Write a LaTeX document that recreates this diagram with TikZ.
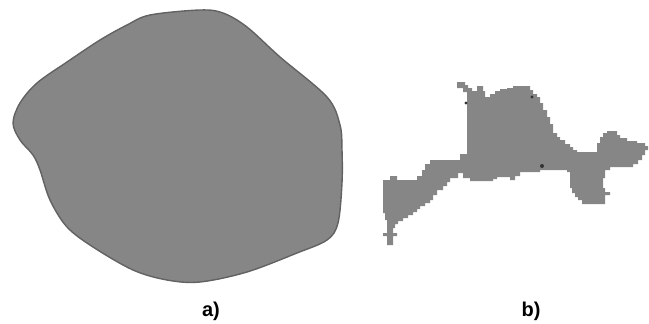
\documentclass[tikz,border=0pt]{standalone}
\usepackage{fontspec}
\setmainfont{Liberation Sans}
\definecolor{blobgray}{RGB}{134,134,134}
\definecolor{rimgray}{RGB}{98,98,98}
\tikzset{
  grain/.style={fill=blobgray,draw=rimgray,line width=1.4pt},
  pixgrain/.style={fill=blobgray},
  speck/.style={fill=black!80},
  caption/.style={font=\fontsize{20}{24}\selectfont\bfseries,inner sep=0pt}
}
\begin{document}
\begin{tikzpicture}[x=1pt,y=-1pt]
\useasboundingbox (0,0) rectangle (649,324);
% a) smooth particle
\draw[grain] plot[smooth cycle,tension=0.55] coordinates {
  (200,10) (150,15) (127,25) (100,40) (67,62) (37,83) (20,103) (13,123)
  (20,140) (33,155) (40,170) (50,200) (67,227) (93,247) (133,270)
  (167,280) (200,282) (247,272) (297,253) (327,240) (338,223) (342,183)
  (342,150) (340,125) (327,97) (280,57) (247,27) (223,13)};

% b) pixel particle
\fill[pixgrain] (457,82) -- (465,82) -- (465,85) -- (468,85) -- (468,88) -- (472,88)
  -- (472,91) -- (477,91) -- (477,86) -- (483,86) -- (483,91) -- (485,91) -- (485,97)
  -- (490,97) -- (490,94) -- (495,94) -- (495,91) -- (500,91) -- (500,89) -- (507,89)
  -- (507,88) -- (513,88) -- (513,86) -- (530,86) -- (530,90) -- (533,90) -- (533,94)
  -- (537,94) -- (537,97) -- (540,97) -- (540,103) -- (543,103) -- (543,110) -- (547,110)
  -- (547,117) -- (550,117) -- (550,124) -- (553,124) -- (553,133) -- (557,133)
  -- (557,137) -- (560,137) -- (560,140) -- (565,140) -- (565,144) -- (570,144)
  -- (570,147) -- (573,147) -- (573,150) -- (577,150) -- (577,152) -- (597,152)
  -- (597,143) -- (600,143) -- (600,137) -- (603,137) -- (603,133) -- (607,133)
  -- (607,131) -- (617,131) -- (617,135) -- (620,135) -- (620,138) -- (627,138)
  -- (627,141) -- (637,141) -- (637,143) -- (645,143) -- (645,146) -- (648,146)
  -- (648,150) -- (645,150) -- (645,155) -- (642,155) -- (642,160) -- (638,160)
  -- (638,164) -- (633,164) -- (633,167) -- (610,167) -- (610,170) -- (605,170)
  -- (605,178) -- (603,178) -- (603,188) -- (605,188) -- (605,192) -- (610,192)
  -- (610,195) -- (605,195) -- (605,204) -- (582,204) -- (582,200) -- (578,200)
  -- (578,197) -- (575,197) -- (575,193) -- (572,193) -- (572,188) -- (570,188)
  -- (570,172) -- (567,172) -- (567,170) -- (540,170) -- (540,172) -- (520,172)
  -- (520,176) -- (515,176) -- (515,180) -- (510,180) -- (510,177) -- (497,177)
  -- (497,179) -- (493,179) -- (493,181) -- (470,181) -- (470,178) -- (463,178)
  -- (463,173) -- (458,173) -- (458,178) -- (450,178) -- (450,182) -- (447,182)
  -- (447,186) -- (443,186) -- (443,190) -- (437,190) -- (437,195) -- (433,195)
  -- (433,200) -- (430,200) -- (430,203) -- (425,203) -- (425,206) -- (420,206)
  -- (420,209) -- (417,209) -- (417,212) -- (413,212) -- (413,215) -- (408,215)
  -- (408,218) -- (403,218) -- (403,221) -- (398,221) -- (398,224) -- (395,224)
  -- (395,228) -- (393,228) -- (393,233) -- (397,233) -- (397,236) -- (393,236)
  -- (393,245) -- (387,245) -- (387,236) -- (383,236) -- (383,233) -- (387,233)
  -- (387,220) -- (385,220) -- (385,213) -- (383,213) -- (383,180) -- (390,180)
  -- (390,176) -- (397,176) -- (397,180) -- (417,180) -- (417,176) -- (422,176)
  -- (422,170) -- (425,170) -- (425,164) -- (430,164) -- (430,160) -- (460,160)
  -- (460,154) -- (467,154) -- (467,92) -- (463,92) -- (463,88) -- (457,88) -- cycle;
\fill[speck] (466,103) circle (1.6);
\fill[speck] (532,97) circle (1.6);
\fill[speck] (542,166) circle (2);

\node[caption] (capa) at (211,311) {a)};
\node[caption] (capb) at (531,311) {b)};
\end{tikzpicture}
\end{document}
